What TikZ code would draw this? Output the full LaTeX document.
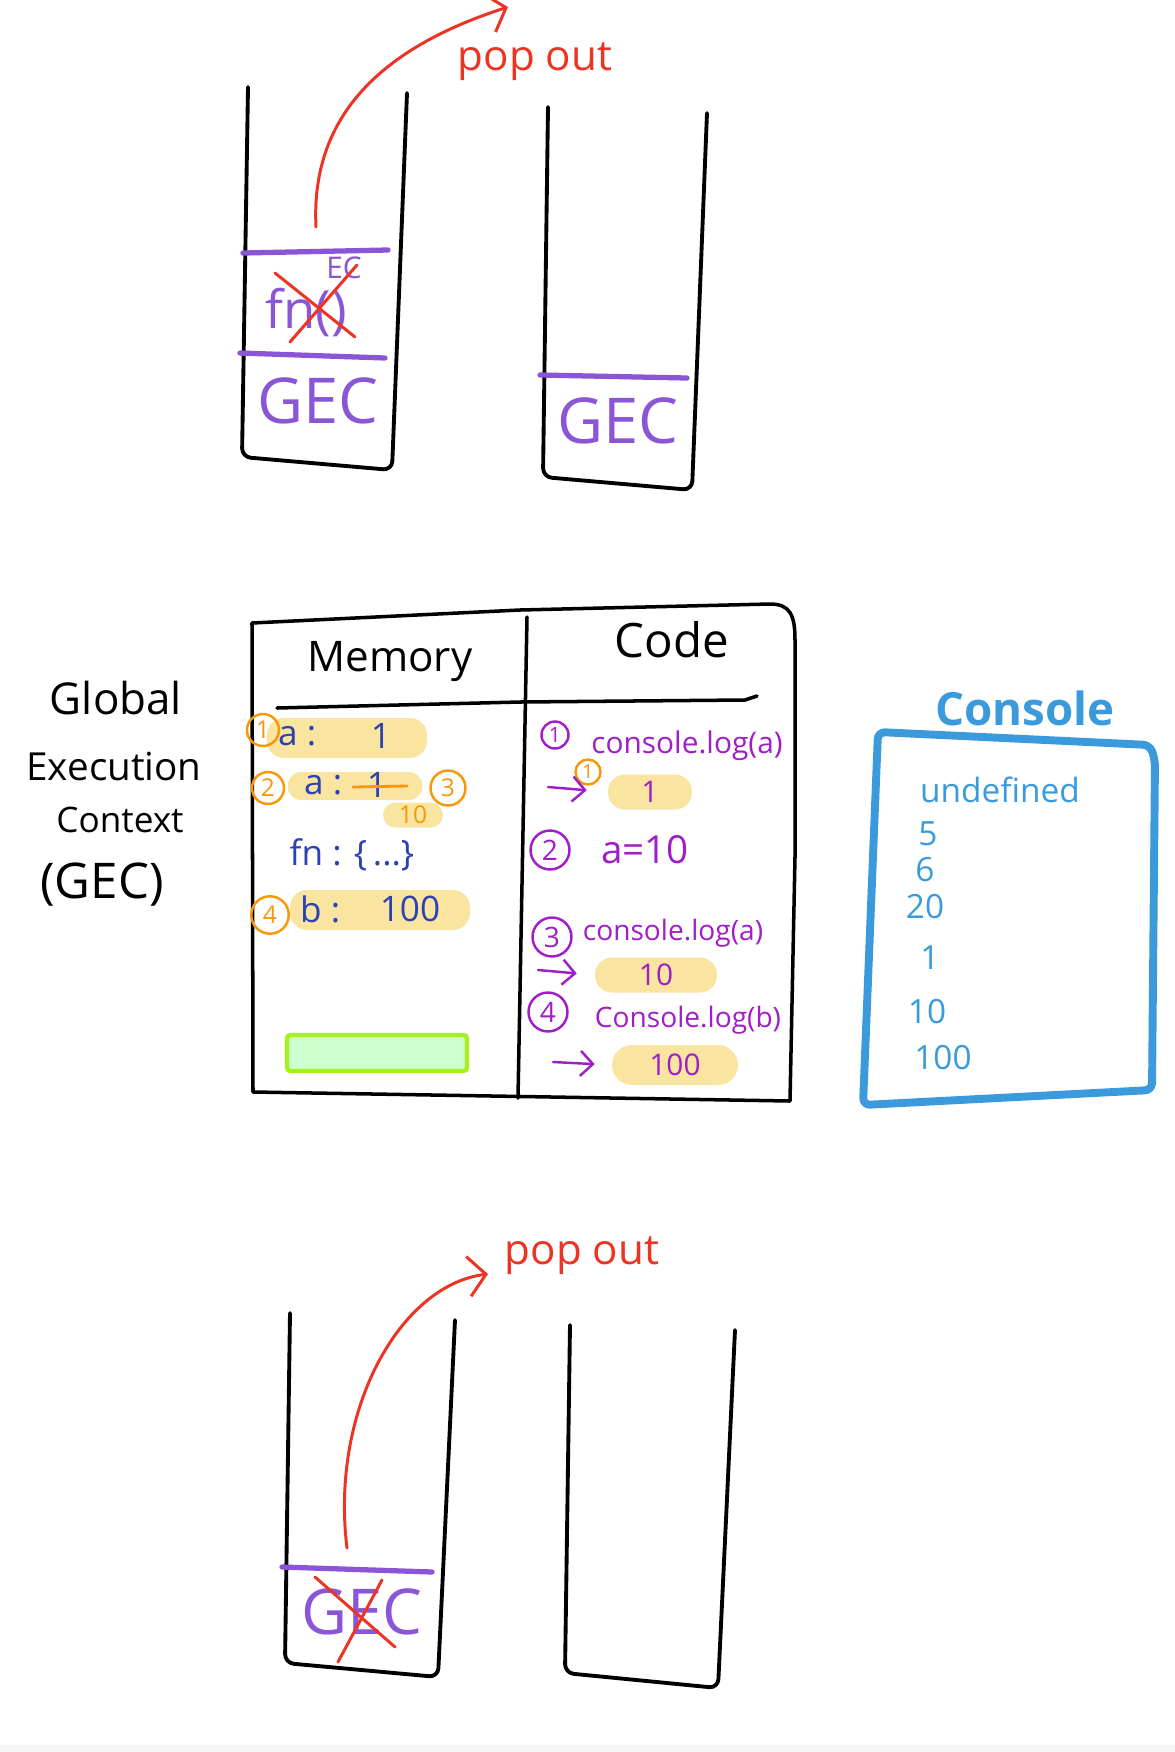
\documentclass[tikz,border=0pt]{standalone}
\usepackage{fontspec}
\setmainfont{Open Sans}
\usetikzlibrary{arrows.meta,positioning,calc}
\newcommand{\fsz}[1]{\fontsize{#1}{#1}\selectfont}
\definecolor{ecpurple}{RGB}{138,86,214}
\definecolor{popred}{RGB}{236,52,36}
\definecolor{memblue}{RGB}{44,66,178}
\definecolor{steporange}{RGB}{246,152,10}
\definecolor{codepurple}{RGB}{160,30,200}
\definecolor{hiyellow}{RGB}{249,228,160}
\definecolor{boxgreen}{RGB}{166,240,30}
\definecolor{boxfill}{RGB}{206,255,206}
\definecolor{consoleblue}{RGB}{58,154,220}
\tikzset{
  stackwall/.style={draw=black,line width=2.2pt,line cap=round,line join=round,rounded corners=5pt},
  framewall/.style={draw=black,line width=2pt,line cap=round,line join=round},
  ecline/.style={draw=ecpurple,line width=3pt,line cap=round},
  eclabel/.style={text=ecpurple,font=\fsz{36}},
  crossline/.style={draw=popred,line width=1.7pt,line cap=round},
  poparrow/.style={draw=popred,line width=1.7pt,line cap=round,
    -{Straight Barb[length=3.5mm,width=8mm]}},
  poplabel/.style={text=popred,font=\fsz{24}},
  sidelabel/.style={font=\fsz{22}},
  headlabel/.style={font=\fsz{24}},
  memtext/.style={text=memblue,font=\fsz{20}},
  stepnum/.style={circle,draw=steporange,line width=1.4pt,text=steporange,
    inner sep=0pt,minimum size=6.4mm,font=\fsz{14}},
  hilite/.style={fill=hiyellow,rounded corners=3.4mm,inner sep=0pt},
  greenbox/.style={fill=boxfill,draw=boxgreen,line width=2.5pt,rounded corners=2pt},
  codetext/.style={text=codepurple,font=\fsz{17}},
  codenum/.style={circle,draw=codepurple,line width=1.4pt,text=codepurple,
    inner sep=0pt,minimum size=7.8mm,font=\fsz{16}},
  codearrow/.style={draw=codepurple,line width=1.4pt,line cap=round,
    -{Straight Barb[length=2.5mm,width=5mm]}},
  consolebox/.style={draw=consoleblue,line width=4.5pt,line join=round,rounded corners=4pt},
  consoletext/.style={text=consoleblue,font=\fsz{19}}
}
\begin{document}
\begin{tikzpicture}[x=0.02cm,y=-0.02cm]
  \useasboundingbox (0,0) rectangle (1175,1752);
  \fill[black!4] (0,1745) rectangle (1175,1752);

  % call stack, fn() popped
  \draw[stackwall] (248,87) -- (242,457) -- (392,470) -- (407,93);
  \draw[ecline] (243,253) -- (388,250);
  \draw[ecline] (240,353) -- (385,358);
  \node[eclabel,font=\fsz{30},inner sep=0pt] (fnec) at (306,312) {fn()};
  \node[eclabel,font=\fsz{17},inner sep=0pt] (fnsup) at (344,268) {EC};
  \draw[crossline] (275,273) -- (355,337);
  \draw[crossline] (357,265) -- (290,342);
  \node[eclabel] (gecA) at (318,401) {GEC};
  \coordinate (popA) at (316,227);
  \coordinate (popAtip) at (508,7);
  \node[poplabel] (popoutA) at (535,62) {pop out};
  \draw[poparrow] (popA) .. controls (310,110) and (390,45) .. (popAtip);

  \draw[stackwall] (548,107) -- (543,477) -- (692,490) -- (707,113);
  \draw[ecline] (540,375) -- (687,378);
  \node[eclabel] (gecB) at (618,421) {GEC};

  % global execution context
  \node[sidelabel,font=\fsz{25}] (glob) at (116,698) {Global};
  \node[sidelabel] (exec) at (114,766) {Execution};
  \node[sidelabel,font=\fsz{20}] (ctx) at (120,820) {Context};
  \node[sidelabel,font=\fsz{28}] (gecname) at (102,885) {(GEC)};

  \draw[framewall] (253,1092) -- (252,623) -- (520,610) -- (770,604)
    .. controls (790,604) and (795,615) .. (795,640) -- (795,857)
    -- (790,1101) -- cycle;
  \draw[framewall] (527,617) -- (518,1098);
  \draw[framewall] (277,708) -- (520,702) -- (745,700) -- (757,696);
  \node[headlabel] (memhead) at (390,662) {Memory};
  \node[headlabel,font=\fsz{27}] (codehead) at (672,640) {Code};

  % memory side
  \node[hilite,minimum width=3.2cm,minimum height=0.8cm] (hla) at (347,738) {};
  \node[memtext,anchor=west] (mema) at (272,736) {a :};
  \node[memtext] (memaval) at (381,736) {1};
  \node[stepnum] (s1) at (263,730) {1};

  \node[hilite,minimum width=2.7cm,minimum height=0.56cm,rounded corners=2.8mm] (hlb) at (355,786) {};
  \node[memtext,anchor=west] (memb) at (298,785) {a :};
  \node[memtext] (membold) at (377,785) {1};
  \draw[draw=steporange,line width=1.6pt,line cap=round] (353,787) -- (407,786);
  \node[stepnum] (s2) at (268,788) {2};
  \node[stepnum,minimum size=7mm] (s3) at (448,788) {3};
  \node[hilite,minimum width=1.2cm,minimum height=0.5cm,rounded corners=2.5mm] (hlc) at (413,815) {};
  \node[text=steporange,font=\fsz{14}] (membnew) at (413,815) {10};

  \node[memtext] (memfn) at (352,855) {fn : \{\,...\}};

  \node[hilite,minimum width=3.6cm,minimum height=0.8cm] (hld) at (380,910) {};
  \node[memtext,anchor=west] (memc) at (294,909) {b :};
  \node[memtext] (memcval) at (410,909) {100};
  \node[stepnum,minimum size=7.5mm] (s4) at (270,915) {4};

  \node[greenbox,minimum width=3.6cm,minimum height=0.72cm] (spare) at (377,1053) {};

  % code side
  \node[codenum,minimum size=5.4mm,font=\fsz{12}] (c1) at (555,735) {1};
  \node[codetext,inner sep=1pt] (log1) at (687,746) {console.log(a)};
  \coordinate (ar1) at (548,787);
  \node[stepnum,minimum size=5mm,font=\fsz{11}] (s1b) at (588,772) {1};
  \node[hilite,codetext,minimum width=1.68cm,minimum height=0.7cm] (out1) at (650,792) {1};
  \draw[codearrow,shorten >=4.2mm] (ar1) -- (out1.west);

  \node[codenum] (c2) at (550,850) {2};
  \node[codetext,font=\fsz{22}] (assign) at (645,850) {a=10};

  \node[codenum] (c3) at (552,937) {3};
  \node[codetext,font=\fsz{16}] (log2) at (673,933) {console.log(a)};
  \coordinate (ar2) at (538,970);
  \node[hilite,codetext,minimum width=2.44cm,minimum height=0.7cm] (out2) at (656,975) {10};
  \draw[codearrow,shorten >=3.6mm] (ar2) -- (out2.west);

  \node[codenum] (c4) at (548,1012) {4};
  \node[codetext,font=\fsz{16}] (log3) at (688,1020) {Console.log(b)};
  \coordinate (ar3) at (553,1062);
  \node[hilite,codetext,minimum width=2.52cm,minimum height=0.8cm,rounded corners=4mm] (out3) at (675,1065) {100};
  \draw[codearrow,shorten >=3.4mm] (ar3) -- (out3.west);

  % console
  \draw[consolebox] (878,732) -- (1150,745) -- (1155,760) -- (1152,1090)
    -- (863,1105) -- cycle;
  \node[consoletext,font=\bfseries\fsz{26}] (conhead) at (1025,708) {Console};
  \node[consoletext] (o1) at (1000,790) {undefined};
  \node[consoletext] (o2) at (928,834) {5};
  \node[consoletext] (o3) at (925,870) {6};
  \node[consoletext] (o4) at (925,907) {20};
  \node[consoletext] (o5) at (930,958) {1};
  \node[consoletext] (o6) at (927,1012) {10};
  \node[consoletext] (o7) at (943,1058) {100};

  % call stack, GEC popped
  \draw[stackwall] (290,1313) -- (285,1663) -- (438,1677) -- (455,1320);
  \draw[ecline] (282,1567) -- (432,1572);
  \node[eclabel] (gecC) at (362,1612) {GEC};
  \draw[crossline] (315,1577) -- (395,1647);
  \draw[crossline] (382,1580) -- (338,1662);
  \coordinate (popC) at (347,1548);
  \coordinate (popCtip) at (488,1274);
  \node[poplabel] (popoutC) at (582,1256) {pop out};
  \draw[poparrow] (popC) .. controls (330,1410) and (400,1285) .. (popCtip);

  \draw[stackwall] (570,1325) -- (565,1673) -- (718,1688) -- (735,1330);
\end{tikzpicture}
\end{document}
